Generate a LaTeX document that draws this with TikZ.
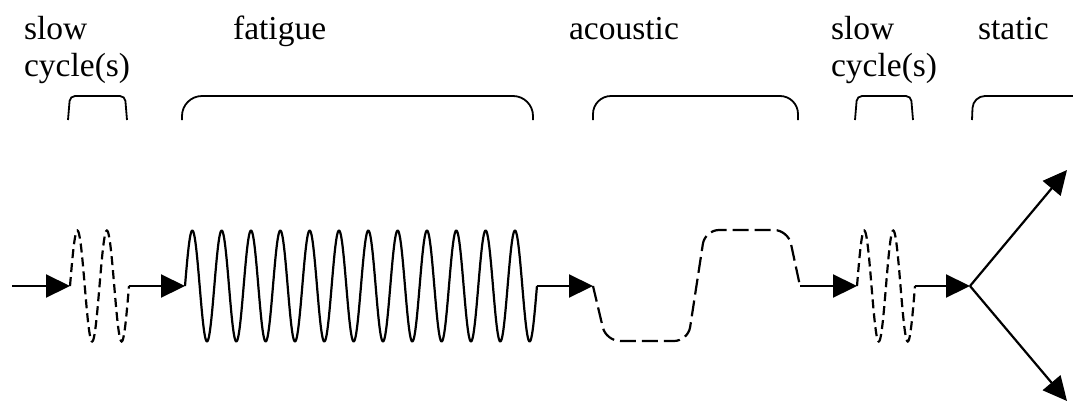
\documentclass[tikz,border=0pt]{standalone}
\usepackage{fontspec}
\setmainfont{Liberation Serif}
\usetikzlibrary{arrows.meta}

\begin{document}
\begin{tikzpicture}[x=1pt, y=-1pt, line width=2.2pt, >={Triangle[length=24pt, width=23pt]},
  flow/.style={->},
  solidwave/.style={line join=round},
  dashwave/.style={dash pattern=on 9pt off 5pt},
  longdash/.style={dash pattern=on 16pt off 6pt, rounded corners=14pt},
  bracket/.style={line width=1.8pt},
  lbl/.style={anchor=base west, inner sep=0pt, align=left, font=\fontsize{33.5}{37}\selectfont}]
  \useasboundingbox (0,0) rectangle (1073,402);
  % labels
  \node[lbl] (slowa) at (23,76) {slow\\cycle(s)};
  \node[lbl] (fatigue) at (232,39) {fatigue};
  \node[lbl] (acoustic) at (568,39) {acoustic};
  \node[lbl] (slowb) at (830,76) {slow\\cycle(s)};
  \node[lbl] (static) at (977,39) {static};
  % brackets
  \draw[bracket, rounded corners=5pt] (68,120) -- (70,96) -- (125,96) -- (127,120);
  \draw[bracket, rounded corners=20pt] (182,120) -- (182,96) -- (533,96) -- (533,120);
  \draw[bracket, rounded corners=18pt] (593,120) -- (593,96) -- (798,96) -- (798,120);
  \draw[bracket, rounded corners=5pt] (855,120) -- (857,96) -- (911,96) -- (913,120);
  \draw[bracket, rounded corners=12pt] (972,120) -- (973,96) -- (1080,96);
  % points on the line
  \coordinate (in) at (12,286);
  \coordinate (slowa in) at (70,286);
  \coordinate (slowa out) at (129,286);
  \coordinate (fat in) at (185,286);
  \coordinate (fat out) at (537,286);
  \coordinate (ac in) at (593,286);
  \coordinate (ac out) at (800,286);
  \coordinate (slowb in) at (857,286);
  \coordinate (slowb out) at (915,286);
  \coordinate (split) at (970,286);
  \coordinate (up) at (1067,170);
  \coordinate (down) at (1067,401);
  % waves
  \draw[dashwave, shift={(slowa in)}] plot[domain=0:720, samples=97] ({\x/360*29.5}, {-55.5*sin(\x)});
  \draw[solidwave, shift={(fat in)}] plot[domain=0:4320, samples=577] ({\x/360*29.33}, {-55.5*sin(\x)});
  \draw[longdash] (ac in) -- (606,341) -- (688,341) -- (705,230) -- (788,230) -- (ac out);
  \draw[dashwave, shift={(slowb in)}] plot[domain=0:720, samples=97] ({\x/360*29}, {-55.5*sin(\x)});
  % arrows
  \draw[flow] (in) -- (slowa in);
  \draw[flow] (slowa out) -- (fat in);
  \draw[flow] (fat out) -- (ac in);
  \draw[flow] (ac out) -- (slowb in);
  \draw[flow] (slowb out) -- (split);
  \draw[flow] (split) -- (up);
  \draw[flow] (split) -- (down);
\end{tikzpicture}
\end{document}
